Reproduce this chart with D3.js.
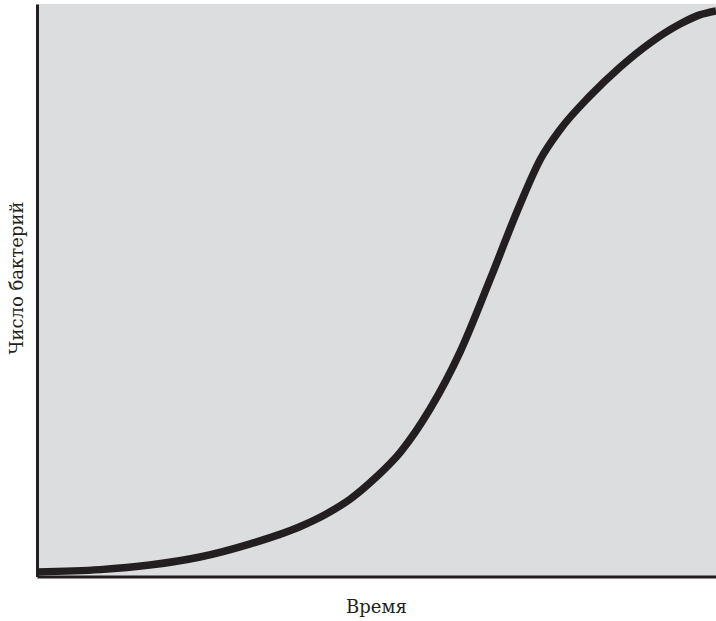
<!DOCTYPE html>
<html>
<head>
<meta charset="utf-8">
<script src="https://cdn.jsdelivr.net/npm/d3@7"></script>
<style>
  body { margin: 0; background: #fff; }
  .label { font-family: "DejaVu Serif", serif; font-size: 18px; fill: #231f20; }
</style>
</head>
<body>
<svg id="chart" width="716" height="621"></svg>
<script>
// growth curve (time / bacteria count, 0..100 scale)
var time  = [0, 9.3, 16.6, 24.0, 31.4, 38.7, 42.4, 46.1, 49.8, 53.5, 57.9, 62.3, 66.7, 71.1, 74.1, 77.0, 81.4, 85.9, 90.3, 94.7, 97.6, 100];
var count = [0.8, 1.2, 2.0, 3.4, 5.7, 8.7, 10.8, 13.5, 17.2, 21.7, 29.3, 39.2, 51.8, 64.9, 72.8, 78.0, 83.9, 89.0, 93.2, 96.5, 98.1, 98.8];
var xLabel = 'Время';
var yLabel = 'Число бактерий';

var svg = d3.select('#chart');

// plot box edges (note: "top" is taken by window.top)
var plotLeft = 37, plotRight = 716, plotTop = 4, plotBottom = 576.5;

var xScale = d3.scaleLinear().domain([0, 100]).range([plotLeft, plotRight]);
var yScale = d3.scaleLinear().domain([0, 100]).range([plotBottom, plotTop]);

// grey plot background
svg.append('rect')
  .attr('x', xScale(0))
  .attr('y', yScale(100))
  .attr('width', xScale(100) - xScale(0))
  .attr('height', yScale(0) - yScale(100))
  .attr('fill', '#dcdddf');

var pts = time.map((t, i) => [t, count[i]]);

var line = d3.line()
  .x(d => xScale(d[0]))
  .y(d => yScale(d[1]))
  .curve(d3.curveMonotoneX);

svg.append('path')
  .datum(pts)
  .attr('d', line)
  .attr('fill', 'none')
  .attr('stroke', '#231f20')
  .attr('stroke-width', 7.5);

// axes without ticks, just the heavy lines
svg.append('g')
  .attr('transform', `translate(${plotLeft}, 0)`)
  .call(d3.axisLeft(yScale).ticks(0).tickSize(0))
  .call(g => g.select('.domain').attr('stroke', '#231f20').attr('stroke-width', 3));

svg.append('g')
  .attr('transform', `translate(0, ${plotBottom})`)
  .call(d3.axisBottom(xScale).ticks(0).tickSize(0))
  .call(g => g.select('.domain').attr('stroke', '#231f20').attr('stroke-width', 3));

svg.append('text')
  .attr('class', 'label')
  .attr('x', (plotLeft + plotRight) / 2)
  .attr('y', 613)
  .attr('text-anchor', 'middle')
  .text(xLabel);

svg.append('text')
  .attr('class', 'label')
  .attr('transform', 'translate(23, 278) rotate(-90)')
  .attr('text-anchor', 'middle')
  .text(yLabel);
</script>
</body>
</html>
